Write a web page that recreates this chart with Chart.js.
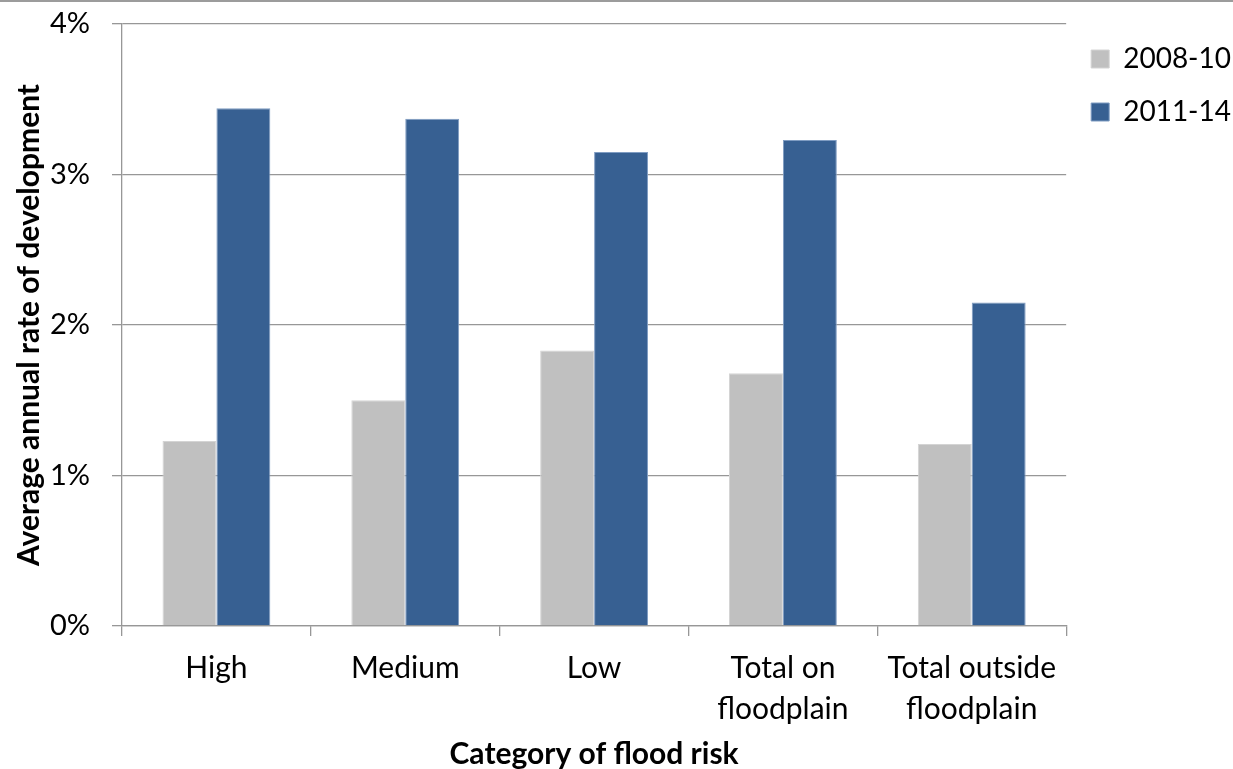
<!DOCTYPE html>
<html>
<head>
<meta charset="utf-8">
<script src="https://cdn.jsdelivr.net/npm/chart.js@4/dist/chart.umd.min.js"></script>
<style>
  html, body { margin: 0; padding: 0; background: #fff; overflow: hidden; }
  #wrap { position: relative; width: 1233px; height: 769px; }
  #topline { position: absolute; left: 0; top: 0; width: 1233px; height: 2px; background: #9c9c9c; }
  canvas { display: block; }
</style>
</head>
<body>
<div id="wrap">
  <canvas id="chart" width="1233" height="769"></canvas>
  <div id="topline"></div>
</div>
<script>
// Flood risk categories (multi-line labels)
const categories = [
  "High",
  "Medium",
  "Low",
  ["Total on", "floodplain"],
  ["Total outside", "floodplain"],
];

// Average annual rate of development, in percent
const rate2008to10 = [1.23, 1.50, 1.83, 1.68, 1.21];
const rate2011to14 = [3.44, 3.37, 3.15, 3.23, 2.15];

const yTicks = [0, 1, 2, 3, 4];

const FONT = "Lato, 'Open Sans', sans-serif";
const GRID = "#979797";

const ctx = document.getElementById("chart").getContext("2d");

new Chart(ctx, {
  type: "bar",
  data: {
    labels: categories,
    datasets: [
      {
        label: "2008-10",
        data: rate2008to10,
        backgroundColor: "#c0c0c0",
        borderColor: "#d4d4d4",
        borderWidth: 1,
        barPercentage: 1,
        categoryPercentage: 0.571,
      },
      {
        label: "2011-14",
        data: rate2011to14,
        backgroundColor: "#376092",
        borderColor: "#7f9cc2",
        borderWidth: 1,
        barPercentage: 1,
        categoryPercentage: 0.571,
      },
    ],
  },
  options: {
    responsive: false,
    animation: false,
    layout: {
      padding: { top: 24, right: -8, bottom: 0, left: 0 },
    },
    plugins: {
      tooltip: { enabled: false },
      legend: {
        position: "right",
        align: "start",
        // empty title only used to nudge the items up a little
        title: {
          display: true,
          text: "",
          font: { size: 1, lineHeight: 1 },
          padding: { top: -5, bottom: 0 },
        },
        labels: {
          color: "#000",
          font: { family: FONT, size: 28, lineHeight: 1.05 },
          boxWidth: 18,
          boxHeight: 18,
          padding: 25,
          useBorderRadius: false,
        },
      },
    },
    scales: {
      x: {
        grid: {
          offset: true,
          drawOnChartArea: false,
          drawTicks: true,
          tickLength: 10,
          color: GRID,
          lineWidth: 1.3,
        },
        border: { display: true, color: GRID, width: 1.3 },
        ticks: {
          color: "#000",
          padding: 12,
          maxRotation: 0,
          autoSkip: false,
          font: { family: FONT, size: 30, lineHeight: 1.37 },
        },
        title: {
          display: true,
          text: "Category of flood risk",
          color: "#000",
          font: { family: FONT, size: 30, weight: "bold", lineHeight: 1.0 },
          padding: { top: 0, bottom: 0 },
        },
        afterFit(scale) {
          scale.height = 143;
        },
      },
      y: {
        min: 0,
        max: 4,
        afterBuildTicks(scale) {
          scale.ticks = yTicks.map((v) => ({ value: v }));
        },
        grid: {
          drawTicks: true,
          tickLength: 10,
          color: GRID,
          lineWidth: 1.3,
        },
        border: { display: true, color: GRID, width: 1.3 },
        ticks: {
          color: "#000",
          padding: 22,
          font: { family: FONT, size: 29 },
          callback: (v) => v + "%",
        },
        title: {
          display: true,
          text: "Average annual rate of development",
          color: "#000",
          font: { family: FONT, size: 30, weight: "bold", lineHeight: 1.2 },
          padding: { top: 11, bottom: 0 },
        },
        afterFit(scale) {
          scale.width = 122;
          scale.paddingTop = 0;
          scale.paddingBottom = 0;
        },
      },
    },
  },
});
</script>
</body>
</html>
